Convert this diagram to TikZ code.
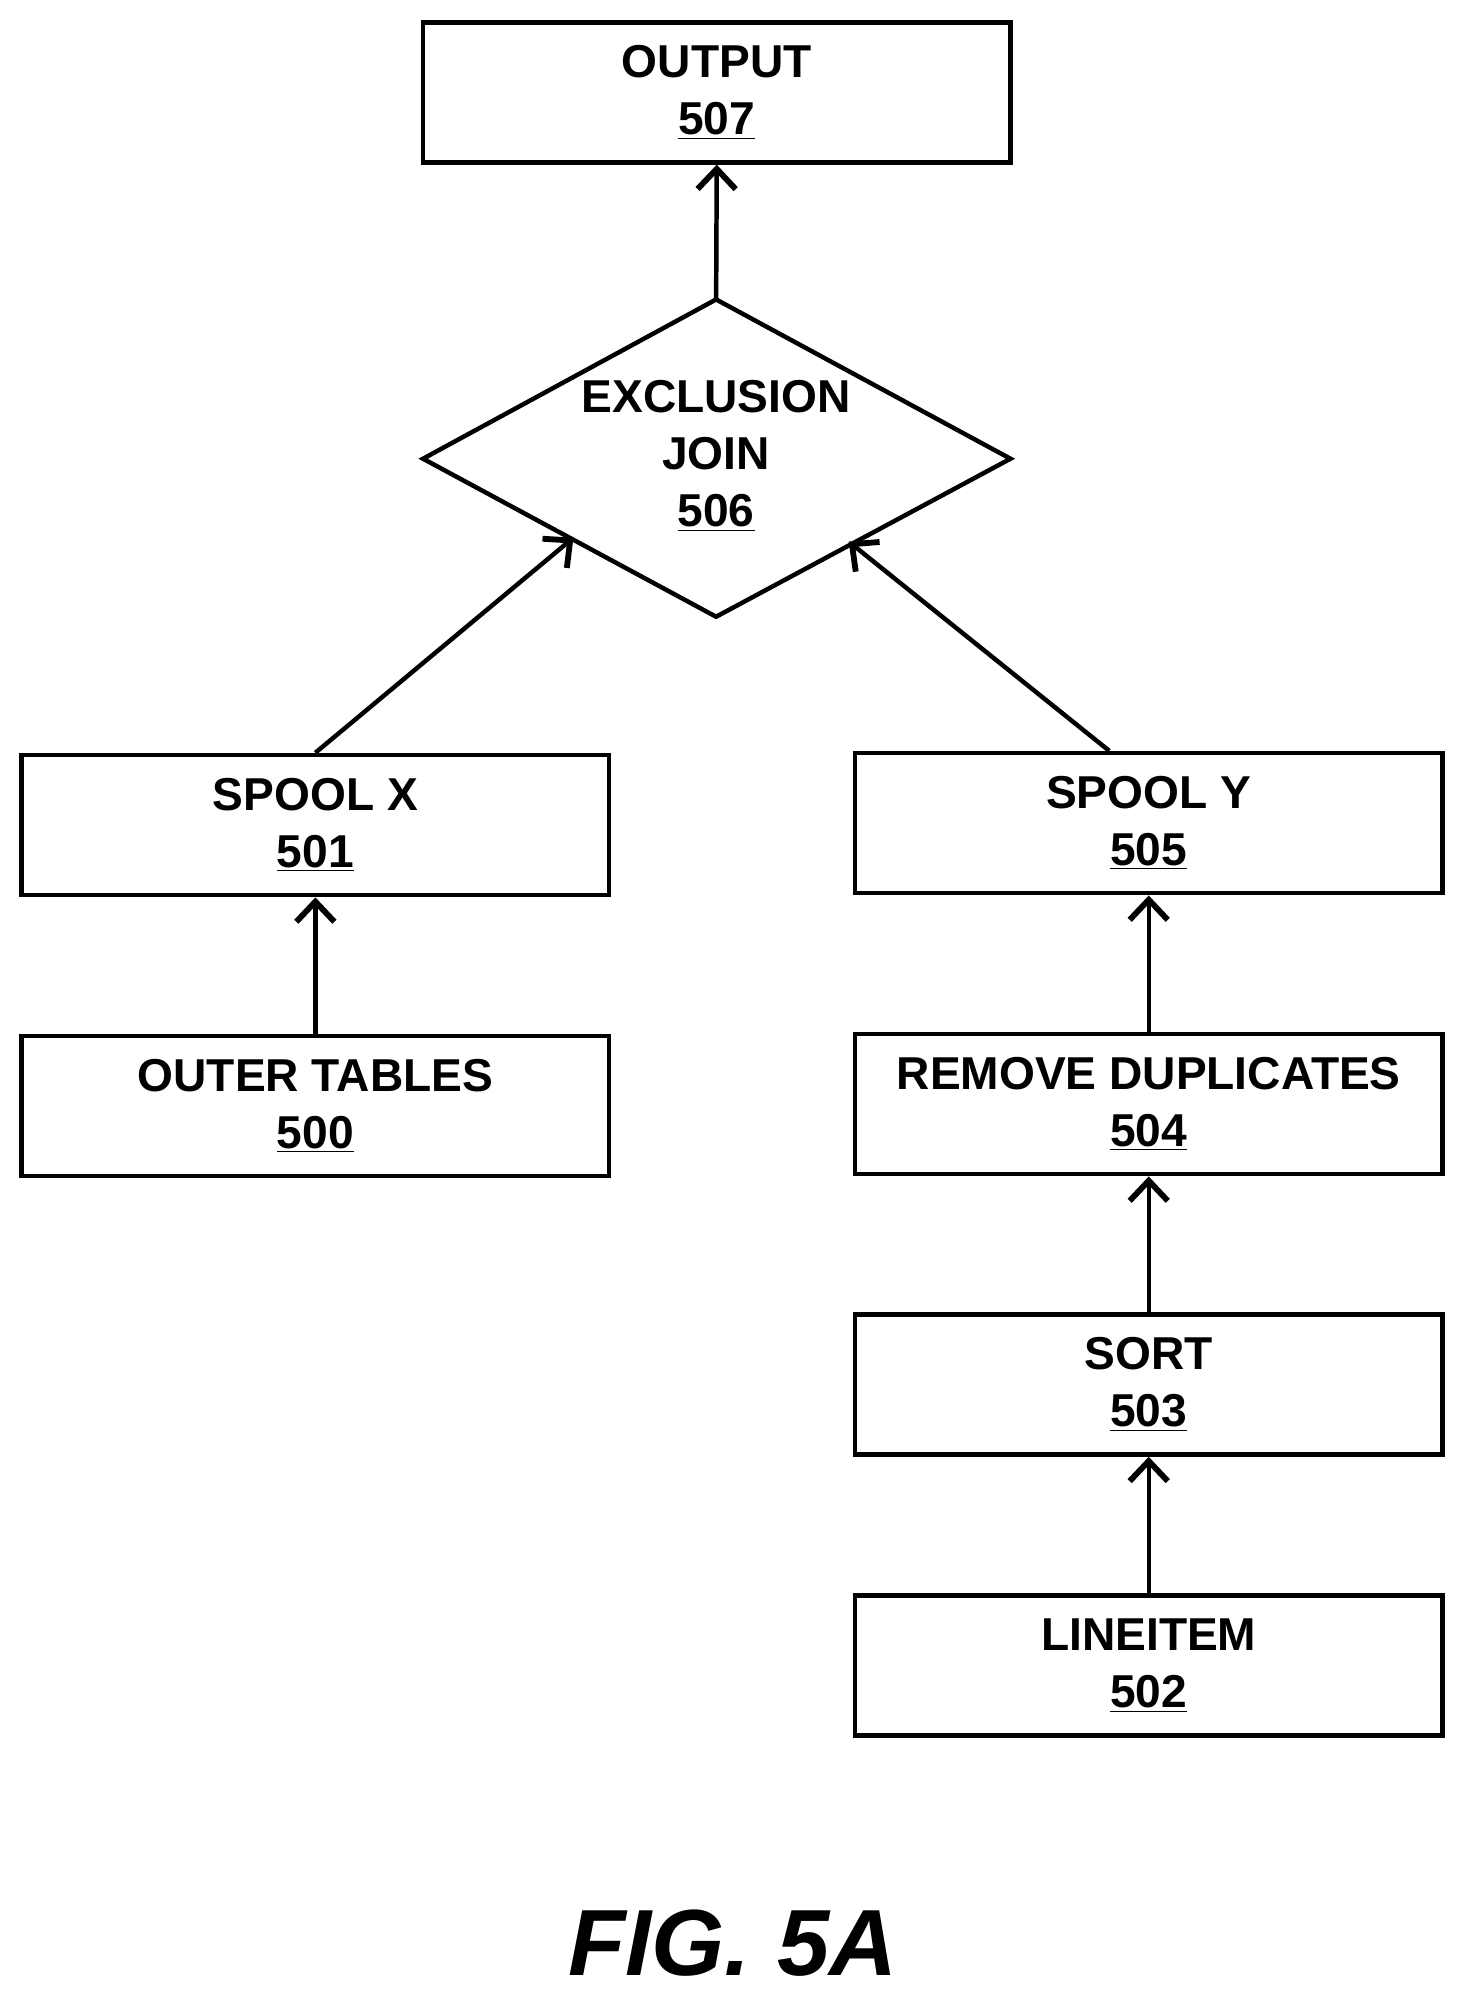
\documentclass[tikz,border=0pt]{standalone}
\usepackage{fontspec}
\setmainfont{Liberation Sans}
\usetikzlibrary{arrows.meta}
\begin{document}
\begin{tikzpicture}[x=0.02cm,y=-0.02cm,
  box/.style={draw,line width=2pt,minimum width=9.22cm,minimum height=2.2cm,inner sep=0pt,align=center,font=\fontsize{20.6}{25.5}\selectfont\bfseries},
  lab/.style={align=center,font=\fontsize{20.6}{25.5}\selectfont\bfseries},
  arr/.style={line width=2pt,-{Straight Barb[length=9pt,width=17pt,line width=2.6pt]}}]
\useasboundingbox (0,0) rectangle (1150,1568);
\node[box] (n507) at (562.5,72.5) {OUTPUT\\\underline{507}};
\node[box] (n501) at (247.5,647.5) {SPOOL X\\\underline{501}};
\node[box] (n505) at (901.5,646) {SPOOL Y\\\underline{505}};
\node[box] (n500) at (247.5,868) {OUTER TABLES\\\underline{500}};
\node[box] (n504) at (901.5,866.5) {REMOVE DUPLICATES\\\underline{504}};
\node[box] (n503) at (901.5,1086.5) {SORT\\\underline{503}};
\node[box] (n502) at (901.5,1307) {LINEITEM\\\underline{502}};
\coordinate (dt) at (562,235);
\coordinate (dl) at (332,360);
\coordinate (dr) at (793,360);
\coordinate (db) at (562,484);
\draw[line width=2pt,line join=miter] (dt) -- (dr) -- (db) -- (dl) -- cycle;
\node[lab] (n506) at (562,358) {EXCLUSION\\JOIN\\\underline{506}};
\coordinate (dlin) at (450,422);
\coordinate (drin) at (666,425);
\draw[arr] (dt) -- (n507.south);
\draw[arr] (n501.north) -- (dlin);
\draw[arr] ([xshift=-0.62cm]n505.north) -- (drin);
\draw[arr] (n500) -- (n501);
\draw[arr] (n504) -- (n505);
\draw[arr] (n503) -- (n504);
\draw[arr] (n502) -- (n503);
\node[font=\fontsize{42}{50}\selectfont\bfseries\itshape] (fig) at (575,1525) {FIG. 5A};
\end{tikzpicture}
\end{document}
